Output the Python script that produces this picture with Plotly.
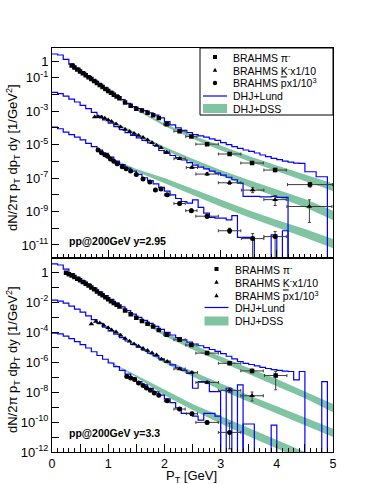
import numpy as np
import plotly.graph_objects as go
from plotly.subplots import make_subplots

# ---------------- data : values stored as log10(dN/2pi pT dpT dy) ----------------
# DHJ+Lund histograms, 0.1 GeV bins from 0 to 5 GeV (None = empty bin)
lund_edges = [round(0.1 * i, 1) for i in range(51)]

lund_pi_295 = [0.42, 0.36, 0.10, -0.18, -0.44, -0.68, -0.92, -1.15, -1.38, -1.61,
               -1.84, -2.06, -2.30, -2.53, -2.72, -2.85, -2.97, -3.10, -3.24, -3.40,
               -3.62, -3.82, -4.00, -4.15, -4.28, -4.40, -4.48, -4.55, -4.65, -4.75,
               -4.88, -5.00, -5.12, -5.22, -5.32, -5.40, -5.50, -5.62, -5.72, -5.82,
               -5.90, -5.98, -6.05, -6.10, -6.12, -6.62, -6.62, -6.92, -6.92, None]
lund_k_295 = [-1.88, -1.95, -2.10, -2.28, -2.45, -2.65, -2.85, -3.07, -3.30, -3.52,
              -3.72, -3.92, -4.10, -4.28, -4.45, -4.60, -4.75, -4.90, -5.05, -5.35,
              -5.52, -5.65, -5.78, -5.92, -6.08, -6.22, -6.35, -6.45, -6.58, -6.70,
              -6.82, -6.95, -7.10, -7.30, -8.10, -8.10, -8.10, -8.12, -8.12, -8.10,
              -8.15, -8.15, None, None, None, None, None, None, None, None]
lund_pbar_295 = [-3.95, -4.05, -4.25, -4.40, -4.55, -4.72, -4.92, -5.12, -5.32, -5.52,
                 -5.75, -5.98, -6.20, -6.40, -6.58, -6.78, -6.98, -7.15, -7.35, -7.55,
                 -7.78, -8.00, -8.22, -8.40, -8.50, -8.30, -8.75, -9.10, -9.35, -9.40,
                 -9.40, -9.50, -9.25, -10.55, -10.55, -10.55, None, None, None, -10.40,
                 None, -10.15, None, None, None, None, None, None, None, None]

lund_pi_33 = [0.58, 0.50, 0.22, -0.08, -0.33, -0.56, -0.80, -1.05, -1.30, -1.55,
              -1.80, -2.05, -2.30, -2.55, -2.78, -3.00, -3.20, -3.40, -3.60, -3.80,
              -4.00, -4.18, -4.35, -4.50, -4.65, -4.78, -4.90, -5.02, -5.15, -5.28,
              -5.42, -5.60, -5.78, -5.95, -6.08, -6.15, -6.25, -6.35, -6.42, -6.50,
              -6.55, -6.60, -6.62, -7.18, -6.62, None, None, None, -7.30, None]
lund_k_33 = [-1.85, -1.92, -2.05, -2.25, -2.45, -2.65, -2.90, -3.15, -3.40, -3.65,
             -3.90, -4.12, -4.35, -4.58, -4.80, -5.00, -5.20, -5.40, -5.58, -5.78,
             -5.98, -6.18, -6.38, -6.55, -6.75, -7.74, -7.30, -7.30, -7.96, -7.96,
             None, -7.74, None, -7.52, None, None, None, None, None, None,
             None, None, None, None, None, None, None, None, None, None]
lund_pbar_33 = [-4.05, -4.10, -4.25, -4.42, -4.62, -4.82, -5.05, -5.30, -5.55, -5.80,
                -6.05, -6.30, -6.55, -6.80, -7.05, -7.30, -7.52, -7.75, -7.98, -8.20,
                -8.45, -8.70, -9.05, -9.42, -9.42, -9.60, -9.87, -9.42, -9.42, -9.60,
                None, None, None, None, -10.13, -10.13, None, None, None, -10.20,
                None, None, None, None, None, None, None, None, None, None]

# DHJ+DSS bands (lower / upper edge)
dss_pt = [1.0, 1.5, 2.0, 2.5, 3.0, 3.5, 4.0, 4.5, 5.0]
dss_pi_lo_295 = [-1.90, -2.95, -3.88, -4.65, -5.33, -6.00, -6.60, -7.18, -7.78]
dss_pi_hi_295 = [-1.82, -2.85, -3.74, -4.45, -5.05, -5.68, -6.25, -6.80, -7.33]
dss_k_lo_295 = [-3.55, -4.42, -5.30, -6.10, -6.85, -7.52, -8.15, -8.75, -9.50]
dss_k_hi_295 = [-3.47, -4.32, -5.12, -5.85, -6.52, -7.12, -7.70, -8.25, -8.95]
dss_pbar_lo_295 = [-5.80, -6.60, -7.30, -8.00, -8.70, -9.35, -9.95, -10.55, -11.20]
dss_pbar_hi_295 = [-5.72, -6.45, -7.00, -7.65, -8.30, -8.92, -9.50, -10.05, -10.65]

dss_pi_lo_33 = [-1.85, -3.08, -4.25, -5.15, -6.00, -6.80, -7.60, -8.40, -9.35]
dss_pi_hi_33 = [-1.78, -2.98, -4.00, -4.82, -5.62, -6.38, -7.12, -7.95, -8.80]
dss_k_lo_33 = [-3.75, -4.95, -6.05, -6.95, -7.85, -8.65, -9.40, -10.20, -11.00]
dss_k_hi_33 = [-3.68, -4.82, -5.82, -6.62, -7.45, -8.20, -8.95, -9.70, -10.45]
dss_pbar_lo_33 = [-5.98, -7.00, -8.20, -9.20, -10.10, -10.95, -11.80, -12.60, -13.40]
dss_pbar_hi_33 = [-5.90, -6.85, -7.85, -8.80, -9.60, -10.40, -11.20, -12.00, -12.80]

# BRAHMS points: low pT (dense, no bars) and high pT (with error bars, in decades)
pi_lo_pt_295 = [0.35, 0.40, 0.45, 0.50, 0.55, 0.60, 0.65, 0.70, 0.75, 0.80, 0.85, 0.90, 0.95,
                1.00, 1.05, 1.10, 1.15, 1.20, 1.30, 1.40, 1.50, 1.60, 1.70, 1.80, 1.90]
pi_lo_295 = [-0.27, -0.38, -0.50, -0.62, -0.73, -0.85, -0.97, -1.08, -1.19, -1.31, -1.43, -1.55, -1.67,
             -1.79, -1.90, -2.01, -2.12, -2.23, -2.48, -2.68, -2.85, -2.96, -3.10, -3.24, -3.40]
pi_hi_pt_295 = [2.04, 2.27, 2.48, 2.76, 3.16, 3.56, 3.97, 4.59]
pi_hi_295 = [-3.78, -4.20, -4.52, -4.97, -5.56, -6.10, -6.52, -7.39]
pi_dx_295 = [0.05, 0.1, 0.1, 0.2, 0.2, 0.2, 0.2, 0.4]
pi_up_295 = [0.02, 0.03, 0.04, 0.05, 0.06, 0.07, 0.10, 0.12]
pi_dn_295 = [0.02, 0.03, 0.04, 0.05, 0.06, 0.07, 0.10, 0.15]

k_lo_pt_295 = [0.76, 0.82, 0.88, 0.94, 1.00, 1.06, 1.14, 1.22, 1.30, 1.38, 1.46, 1.54, 1.62,
               1.70, 1.78, 1.86, 1.94]
k_lo_295 = [-3.35, -3.33, -3.36, -3.42, -3.52, -3.62, -3.77, -3.95, -4.10, -4.22, -4.33, -4.45, -4.58,
            -4.72, -4.88, -5.05, -5.18]
k_hi_pt_295 = [2.04, 2.27, 2.49, 2.76, 3.16, 3.57, 3.97, 4.58]
k_hi_295 = [-5.45, -5.84, -6.37, -6.76, -7.28, -7.72, -8.29, -8.70]
k_dx_295 = [0.05, 0.1, 0.1, 0.2, 0.2, 0.2, 0.2, 0.4]
k_up_295 = [0.03, 0.04, 0.05, 0.08, 0.10, 0.15, 0.25, 0.40]
k_dn_295 = [0.03, 0.04, 0.05, 0.08, 0.10, 0.15, 0.35, 0.95]

pbar_lo_pt_295 = [0.82, 0.88, 0.94, 0.99, 1.04, 1.10, 1.16, 1.25, 1.32, 1.40, 1.50, 1.62, 1.74, 1.84, 1.94]
pbar_lo_295 = [-5.32, -5.48, -5.60, -5.70, -5.86, -6.00, -6.14, -6.32, -6.44, -6.58, -6.78, -7.05, -7.24,
               -7.72, -7.66]
pbar_hi_pt_295 = [2.05, 2.27, 2.48, 2.76, 3.16, 3.57, 3.97]
pbar_hi_295 = [-8.00, -8.52, -8.95, -9.28, -10.15, -10.62, -10.50]
pbar_dx_295 = [0.05, 0.1, 0.1, 0.2, 0.2, 0.2, 0.2]
pbar_up_295 = [0.05, 0.08, 0.10, 0.12, 0.15, 0.30, 0.30]
pbar_dn_295 = [0.05, 0.08, 0.10, 0.12, 0.15, 1.50, 1.50]

pi_lo_pt_33 = [0.25, 0.30, 0.35, 0.40, 0.45, 0.50, 0.55, 0.60, 0.65, 0.70, 0.75, 0.80, 0.85, 0.90,
               0.95, 1.00, 1.05, 1.10, 1.15, 1.20, 1.30, 1.40, 1.50, 1.60, 1.70, 1.80, 1.90]
pi_lo_33 = [-0.02, -0.12, -0.21, -0.31, -0.42, -0.52, -0.63, -0.75, -0.87, -1.00, -1.13, -1.27, -1.40,
            -1.53, -1.66, -1.79, -1.92, -2.04, -2.16, -2.28, -2.55, -2.80, -3.02, -3.24, -3.43, -3.62, -3.85]
pi_hi_pt_33 = [2.04, 2.27, 2.48, 2.76, 3.16, 3.56, 3.98]
pi_hi_33 = [-4.16, -4.50, -4.85, -5.39, -6.07, -6.58, -6.89]
pi_dx_33 = [0.05, 0.1, 0.1, 0.2, 0.2, 0.2, 0.2]
pi_up_33 = [0.02, 0.03, 0.04, 0.05, 0.08, 0.12, 0.28]
pi_dn_33 = [0.02, 0.03, 0.04, 0.05, 0.08, 0.12, 0.95]

k_lo_pt_33 = [0.70, 0.78, 0.85, 0.92, 1.00, 1.06, 1.14, 1.22, 1.30, 1.38, 1.46, 1.54, 1.62, 1.70,
              1.78, 1.86, 1.95]
k_lo_33 = [-3.45, -3.28, -3.38, -3.52, -3.70, -3.85, -3.98, -4.20, -4.42, -4.60, -4.78, -4.93, -5.08,
           -5.22, -5.38, -5.52, -5.80]
k_hi_pt_33 = [2.05, 2.27, 2.49, 2.76, 3.16, 3.56]
k_hi_33 = [-5.95, -6.45, -6.68, -7.35, -7.88, -8.24]
k_dx_33 = [0.05, 0.1, 0.1, 0.2, 0.2, 0.2]
k_up_33 = [0.03, 0.04, 0.05, 0.08, 0.15, 0.25]
k_dn_33 = [0.03, 0.04, 0.05, 0.08, 0.15, 0.35]

pbar_lo_pt_33 = [1.33, 1.40, 1.47, 1.54, 1.62, 1.68, 1.75, 1.82, 1.90]
pbar_lo_33 = [-6.96, -7.05, -7.15, -7.38, -7.55, -7.72, -7.88, -8.05, -8.20]
pbar_hi_pt_33 = [2.05, 2.27, 2.49, 2.76, 3.16]
pbar_hi_33 = [-8.58, -9.13, -9.44, -10.02, -10.69]
pbar_dx_33 = [0.05, 0.1, 0.1, 0.2, 0.2]
pbar_up_33 = [0.05, 0.08, 0.10, 0.10, 0.62]
pbar_dn_33 = [0.05, 0.08, 0.10, 0.10, 1.10]

# ---------------- styles ----------------
FONT = "Liberation Sans"
BLUE = "rgb(0,0,255)"
GREEN = "rgb(128,196,162)"
ERR = "rgb(60,60,60)"

fig = make_subplots(rows=2, cols=1, shared_xaxes=True, vertical_spacing=0)


def add_band(row, lo, hi):
    x = list(dss_pt) + list(dss_pt[::-1])
    y = [10.0 ** v for v in hi] + [10.0 ** v for v in lo[::-1]]
    fig.add_trace(go.Scatter(x=x, y=y, mode="lines", fill="toself", fillcolor=GREEN,
                             line=dict(width=0), hoverinfo="skip", showlegend=False),
                  row=row, col=1)


def add_hist(row, logs):
    y = [10.0 ** v if v is not None else 1e-30 for v in logs]
    fig.add_trace(go.Scatter(x=lund_edges, y=y + [y[-1]], mode="lines", line_shape="hv",
                             line=dict(color=BLUE, width=1.2), showlegend=False),
                  row=row, col=1)


def add_points(row, pt_lo, v_lo, pt_hi, v_hi, dx, up, dn, symbol, size):
    fig.add_trace(go.Scatter(x=pt_lo, y=[10.0 ** v for v in v_lo], mode="markers",
                             marker=dict(symbol=symbol, size=size, color="black"),
                             showlegend=False), row=row, col=1)
    v = 10.0 ** np.array(v_hi)
    eu = v * (10.0 ** np.array(up) - 1)
    ed = v * (1 - 10.0 ** -np.array(dn))
    fig.add_trace(go.Scatter(x=pt_hi, y=v, mode="markers",
                             marker=dict(symbol=symbol, size=size, color="black"),
                             error_x=dict(type="data", array=dx, color=ERR, thickness=1, width=1.5),
                             error_y=dict(type="data", array=eu, arrayminus=ed, symmetric=False,
                                          color=ERR, thickness=1, width=1.5),
                             showlegend=False), row=row, col=1)


# top panel (y = 2.95)
add_band(1, dss_pi_lo_295, dss_pi_hi_295)
add_band(1, dss_k_lo_295, dss_k_hi_295)
add_band(1, dss_pbar_lo_295, dss_pbar_hi_295)
add_hist(1, lund_pi_295)
add_hist(1, lund_k_295)
add_hist(1, lund_pbar_295)
add_points(1, pi_lo_pt_295, pi_lo_295, pi_hi_pt_295, pi_hi_295, pi_dx_295, pi_up_295, pi_dn_295, "square", 4.5)
add_points(1, k_lo_pt_295, k_lo_295, k_hi_pt_295, k_hi_295, k_dx_295, k_up_295, k_dn_295, "triangle-up", 5)
add_points(1, pbar_lo_pt_295, pbar_lo_295, pbar_hi_pt_295, pbar_hi_295, pbar_dx_295, pbar_up_295,
           pbar_dn_295, "circle", 5)

# bottom panel (y = 3.3)
add_band(2, dss_pi_lo_33, dss_pi_hi_33)
add_band(2, dss_k_lo_33, dss_k_hi_33)
add_band(2, dss_pbar_lo_33, dss_pbar_hi_33)
add_hist(2, lund_pi_33)
add_hist(2, lund_k_33)
add_hist(2, lund_pbar_33)
add_points(2, pi_lo_pt_33, pi_lo_33, pi_hi_pt_33, pi_hi_33, pi_dx_33, pi_up_33, pi_dn_33, "square", 4.5)
add_points(2, k_lo_pt_33, k_lo_33, k_hi_pt_33, k_hi_33, k_dx_33, k_up_33, k_dn_33, "triangle-up", 5)
add_points(2, pbar_lo_pt_33, pbar_lo_33, pbar_hi_pt_33, pbar_hi_33, pbar_dx_33, pbar_up_33,
           pbar_dn_33, "circle", 5)

# ---------------- axes ----------------
L, R, T, B = 52, 41, 48, 32
W, H = 374, 484
pw, ph = W - L - R, H - T - B
split = (452 - 257.5) / ph


def px(x):
    return (x - L) / pw


def py(y):
    return (H - B - y) / ph


def sup(e):
    return "10<sup>%d</sup>" % e


top_exp = list(range(0, -12, -1))
top_text = ["1" if e == 0 else (sup(e) if e % 2 else "") for e in top_exp]
bot_exp = list(range(1, -13, -1))
bot_text = ["1" if e == 0 else (sup(e) if (e < 0 and e % 2 == 0) else "") for e in bot_exp]

axis_common = dict(showline=True, linecolor="black", linewidth=1, mirror=True, showgrid=False,
                   zeroline=False, ticks="inside", tickcolor="black", automargin=False)

fig.update_xaxes(range=[0, 5], tickvals=[0, 0.5, 1, 1.5, 2, 2.5, 3, 3.5, 4, 4.5, 5],
                 ticktext=["0", "", "1", "", "2", "", "3", "", "4", "", "5"], ticklen=8,
                 minor=dict(dtick=0.1, ticks="inside", ticklen=4, tickcolor="black"),
                 tickfont=dict(family=FONT, size=12.5, color="black"), **axis_common)
fig.update_xaxes(showticklabels=False, row=1, col=1)
fig.update_yaxes(type="log", tickfont=dict(family=FONT, size=13, color="black"), **axis_common)
fig.update_layout(
    yaxis=dict(domain=[split, 1], range=[-11.75, 0.78], tickvals=[10.0 ** e for e in top_exp],
               ticktext=top_text, ticklen=7),
    yaxis2=dict(domain=[0, split], range=[-12, 1], tickvals=[10.0 ** e for e in bot_exp],
                ticktext=bot_text, ticklen=7),
)

# ---------------- texts and legends ----------------
ann = []
shapes = []


def text(x, y, s, size=13, xanchor="center", angle=0):
    ann.append(dict(x=px(x), y=py(y), xref="paper", yref="paper", text=s, textangle=angle,
                    xanchor=xanchor, yanchor="middle", showarrow=False,
                    font=dict(family=FONT, size=size, color="black")))


title_y = "dN/2π p<sub>T</sub> dp<sub>T</sub> dy [1/GeV<sup>2</sup>]"
text(13, 158, title_y, angle=-90)
text(13, 360, title_y, angle=-90)
text(191, 476, "P<sub>T</sub> [GeV]")
text(67, 241, "<b>pp@200GeV y=2.95</b>", size=10.5, xanchor="left")
text(67, 433, "<b>pp@200GeV y=3.3</b>", size=10.5, xanchor="left")

legend_labels = ["BRAHMS π<sup>-</sup>", "BRAHMS K<sup>-</sup>x1/10",
                 "BRAHMS <span style='text-decoration:overline'>p</span>x1/10<sup>3</sup>",
                 "DHJ+Lund", "DHJ+DSS"]


def legend(ys, xm, xt, third):
    for lab, yy in zip(legend_labels, ys):
        text(xt, yy, lab, size=10.5, xanchor="left")
    # marker keys
    y0 = ys[0]
    shapes.append(dict(type="rect", xref="paper", yref="paper", x0=px(xm - 2), x1=px(xm + 2),
                       y0=py(y0 - 2), y1=py(y0 + 2), fillcolor="black", line=dict(width=0)))
    for yy, kind in ((ys[1], "tri"), (ys[2], third)):
        if kind == "tri":
            path = "M %f %f L %f %f L %f %f Z" % (px(xm - 2.2), py(yy + 1.8), px(xm + 2.2), py(yy + 1.8),
                                                  px(xm), py(yy - 2.2))
            shapes.append(dict(type="path", xref="paper", yref="paper", path=path, fillcolor="black",
                               line=dict(width=0)))
        else:
            shapes.append(dict(type="circle", xref="paper", yref="paper", x0=px(xm - 2.2), x1=px(xm + 2.2),
                               y0=py(yy - 2.2), y1=py(yy + 2.2), fillcolor="black", line=dict(width=0)))
    shapes.append(dict(type="line", xref="paper", yref="paper", x0=px(xm - 12), x1=px(xm + 12),
                       y0=py(ys[3]), y1=py(ys[3]), line=dict(color=BLUE, width=1.2)))
    shapes.append(dict(type="rect", xref="paper", yref="paper", x0=px(xm - 12), x1=px(xm + 12),
                       y0=py(ys[4] - 4.5), y1=py(ys[4] + 4.5), fillcolor=GREEN, line=dict(width=0)))


legend([57, 70, 83, 96, 108.5], 215, 231, "circle")
legend([269, 282, 295.5, 307.5, 321], 216.5, 232.5, "tri")
shapes.append(dict(type="rect", xref="paper", yref="paper", x0=px(200), x1=px(333), y0=py(48), y1=py(115),
                   line=dict(color="black", width=1)))

fig.update_layout(width=W, height=H, margin=dict(l=L, r=R, t=T, b=B, autoexpand=False),
                  plot_bgcolor="white", paper_bgcolor="white", showlegend=False,
                  annotations=ann, shapes=shapes, font=dict(family=FONT, color="black"))

# the page body has a default 8px margin; remove it so the figure fills the window
fig.write_html("out.html", config={"displayModeBar": False},
               post_script="document.body.style.margin='0';")
